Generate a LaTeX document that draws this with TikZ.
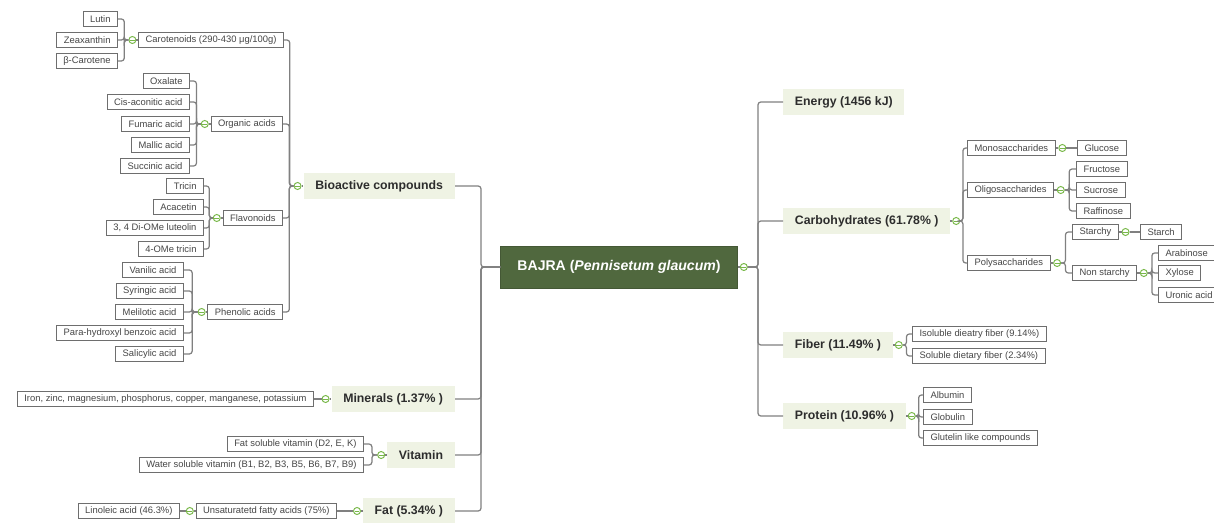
\documentclass[tikz,border=0pt]{standalone}
\usepackage{fontspec}
\setmainfont{Liberation Sans}
\usetikzlibrary{positioning,calc}
\definecolor{rootgreen}{RGB}{80,104,62}
\definecolor{topicfill}{RGB}{239,243,228}
\definecolor{topictext}{RGB}{45,45,45}
\definecolor{foldgreen}{RGB}{120,184,72}
\definecolor{linkgray}{RGB}{128,128,128}
\definecolor{leafgray}{RGB}{110,110,110}
\definecolor{leaftext}{RGB}{70,70,70}

\begin{document}
\begin{tikzpicture}[x=0.02cm, y=-0.02cm,
        leaf/.style={draw=leafgray, fill=white, text=leaftext, font=\fontsize{5.35}{6}\selectfont, inner xsep=4pt, inner ysep=0pt, minimum height=9pt, line width=0.55pt},
        topic/.style={fill=topicfill, text=topictext, font=\bfseries\fontsize{7}{8}\selectfont, inner xsep=6.6pt, minimum height=15.3pt},
        root/.style={fill=rootgreen, draw=rootgreen!85!black, text=white, font=\bfseries\fontsize{8}{9}\selectfont, inner xsep=9.6pt, minimum height=23.8pt},
        fold/.style={circle, draw=foldgreen, fill=white, line width=0.55pt, inner sep=0pt, minimum size=4pt, path picture={\draw[foldgreen, line width=0.55pt] ([xshift=0.6pt]path picture bounding box.west) -- ([xshift=-0.6pt]path picture bounding box.east);}},
        link/.style={draw=linkgray, line width=0.7pt, rounded corners=1.6pt}]
        \clip (0,0) rectangle (1214,523);

        \node[root] (bajra) at (619,267) {BAJRA (\textit{Pennisetum glaucum})};
        \node[fold, right=1.2pt of bajra] (bajraF) {};
        \coordinate (trunkL) at (481,267);
        \coordinate (trunkR) at (758,267);

        \node[topic, anchor=east] (bio) at (455,186) {Bioactive compounds};
        \node[topic, anchor=east] (mineral) at (455,399) {Minerals (1.37\% )};
        \node[topic, anchor=east] (vitamin) at (455,455) {Vitamin};
        \node[topic, anchor=east] (fat) at (455,511) {Fat (5.34\% )};
        \node[fold, left=1pt of bio] (bioF) {};
        \node[fold, left=1pt of mineral] (mineralF) {};
        \node[fold, left=1pt of vitamin] (vitaminF) {};
        \node[fold, left=1pt of fat] (fatF) {};

        \node[leaf, anchor=east] (carot) at (284,40) {Carotenoids (290-430 μg/100g)};
        \node[leaf, anchor=east] (organic) at (283,124) {Organic acids};
        \node[leaf, anchor=east] (flavo) at (283,218) {Flavonoids};
        \node[leaf, anchor=east] (phenol) at (283,312) {Phenolic acids};
        \node[fold, left=1pt of carot] (carotF) {};
        \node[fold, left=1pt of organic] (organicF) {};
        \node[fold, left=1pt of flavo] (flavoF) {};
        \node[fold, left=1pt of phenol] (phenolF) {};

        \node[leaf, anchor=east] (lutin) at (118,19) {Lutin};
        \node[leaf, anchor=east] (zea) at (118,40) {Zeaxanthin};
        \node[leaf, anchor=east] (betacar) at (118,61) {β-Carotene};

        \node[leaf, anchor=east] (oxal) at (190,81) {Oxalate};
        \node[leaf, anchor=east] (cisacon) at (190,102) {Cis-aconitic acid};
        \node[leaf, anchor=east] (fumar) at (190,124) {Fumaric acid};
        \node[leaf, anchor=east] (mallic) at (190,145) {Mallic acid};
        \node[leaf, anchor=east] (succin) at (190,166) {Succinic acid};

        \node[leaf, anchor=east] (tricin) at (204,186) {Tricin};
        \node[leaf, anchor=east] (acacet) at (204,207) {Acacetin};
        \node[leaf, anchor=east] (luteol) at (204,228) {3, 4 Di-OMe luteolin};
        \node[leaf, anchor=east] (metric) at (204,249) {4-OMe tricin};

        \node[leaf, anchor=east] (vanil) at (184,270) {Vanilic acid};
        \node[leaf, anchor=east] (syring) at (184,291) {Syringic acid};
        \node[leaf, anchor=east] (melil) at (184,312) {Melilotic acid};
        \node[leaf, anchor=east] (parahyd) at (184,333) {Para-hydroxyl benzoic acid};
        \node[leaf, anchor=east] (salic) at (184,354) {Salicylic acid};

        \node[leaf, anchor=east] (metals) at (314,399) {Iron, zinc, magnesium, phosphorus, copper, manganese, potassium};
        \node[leaf, anchor=east] (fatsol) at (364,444) {Fat soluble vitamin (D2, E, K)};
        \node[leaf, anchor=east] (watsol) at (364,465) {Water soluble vitamin (B1, B2, B3, B5, B6, B7, B9)};
        \node[leaf, anchor=east] (unsat) at (337,511) {Unsaturatetd fatty acids (75\%)};
        \node[fold, left=1pt of unsat] (unsatF) {};
        \node[leaf, anchor=east] (linol) at (180,511) {Linoleic acid (46.3\%)};

        \node[topic, anchor=west] (energy) at (783,102) {Energy (1456 kJ)};
        \node[topic, anchor=west] (carbo) at (783,221) {Carbohydrates (61.78\% )};
        \node[topic, anchor=west] (fiber) at (783,345) {Fiber (11.49\% )};
        \node[topic, anchor=west] (protein) at (783,416) {Protein (10.96\% )};
        \node[fold, right=1pt of carbo] (carboF) {};
        \node[fold, right=1pt of fiber] (fiberF) {};
        \node[fold, right=1pt of protein] (proteinF) {};

        \node[leaf, anchor=west] (mono) at (967,148) {Monosaccharides};
        \node[leaf, anchor=west] (oligo) at (967,190) {Oligosaccharides};
        \node[leaf, anchor=west] (poly) at (967,263) {Polysaccharides};
        \node[fold, right=1.5pt of mono] (monoF) {};
        \node[fold, right=1.5pt of oligo] (oligoF) {};
        \node[fold, right=1.5pt of poly] (polyF) {};
        \node[leaf, anchor=west] (gluc) at (1077,148) {Glucose};
        \node[leaf, anchor=west] (fruc) at (1076,169) {Fructose};
        \node[leaf, anchor=west] (sucr) at (1076,190) {Sucrose};
        \node[leaf, anchor=west] (raff) at (1076,211) {Raffinose};
        \node[leaf, anchor=west] (starchy) at (1072,232) {Starchy};
        \node[leaf, anchor=west] (nonstar) at (1072,273) {Non starchy};
        \node[fold, right=1.5pt of starchy] (starchyF) {};
        \node[fold, right=1.5pt of nonstar] (nonstarF) {};
        \node[leaf, anchor=west] (starch) at (1140,232) {Starch};
        \node[leaf, anchor=west] (arab) at (1158,253) {Arabinose};
        \node[leaf, anchor=west] (xyl) at (1158,273) {Xylose};
        \node[leaf, anchor=west] (uronic) at (1158,295) {Uronic acid};

        \node[leaf, anchor=west] (insol) at (912,334) {Isoluble dieatry fiber (9.14\%)};
        \node[leaf, anchor=west] (solub) at (912,356) {Soluble dietary fiber (2.34\%)};
        \node[leaf, anchor=west] (album) at (923,395) {Albumin};
        \node[leaf, anchor=west] (globul) at (923,417) {Globulin};
        \node[leaf, anchor=west] (glutel) at (923,438) {Glutelin like compounds};

        \foreach \t in {bio,mineral,vitamin,fat}
            \draw[link] (bajra.west) -- (trunkL) |- (\t.east);
        \draw[link] (bajra.east) -- (bajraF.west);
        \foreach \t in {energy,carbo,fiber,protein}
            \draw[link] (bajraF.east) -- (trunkR) |- (\t.west);

        \foreach \p in {bio,mineral,vitamin,fat,carot,organic,flavo,phenol,unsat}
            \draw[link] (\p F.east) -- (\p.west);
        \foreach \p in {carbo,fiber,protein,mono,oligo,poly,starchy,nonstar}
            \draw[link] (\p.east) -- (\p F.west);

        \foreach \c in {carot,organic,flavo,phenol}
            \draw[link] (bioF.west) -- ($(bioF.west)!0.4!(bioF.west -| \c.east)$) |- (\c.east);
        \foreach \c in {lutin,zea,betacar}
            \draw[link] (carotF.west) -- ($(carotF.west)!0.4!(carotF.west -| \c.east)$) |- (\c.east);
        \foreach \c in {oxal,cisacon,fumar,mallic,succin}
            \draw[link] (organicF.west) -- ($(organicF.west)!0.4!(organicF.west -| \c.east)$) |- (\c.east);
        \foreach \c in {tricin,acacet,luteol,metric}
            \draw[link] (flavoF.west) -- ($(flavoF.west)!0.4!(flavoF.west -| \c.east)$) |- (\c.east);
        \foreach \c in {vanil,syring,melil,parahyd,salic}
            \draw[link] (phenolF.west) -- ($(phenolF.west)!0.4!(phenolF.west -| \c.east)$) |- (\c.east);
        \draw[link] (mineralF.west) -- (metals.east);
        \foreach \c in {fatsol,watsol}
            \draw[link] (vitaminF.west) -- ($(vitaminF.west)!0.4!(vitaminF.west -| \c.east)$) |- (\c.east);
        \draw[link] (fatF.west) -- (unsat.east);
        \draw[link] (unsatF.west) -- (linol.east);

        \foreach \c in {mono,oligo,poly}
            \draw[link] (carboF.east) -- ($(carboF.east)!0.4!(carboF.east -| \c.west)$) |- (\c.west);
        \draw[link] (monoF.east) -- (gluc.west);
        \foreach \c in {fruc,sucr,raff}
            \draw[link] (oligoF.east) -- ($(oligoF.east)!0.4!(oligoF.east -| \c.west)$) |- (\c.west);
        \foreach \c in {starchy,nonstar}
            \draw[link] (polyF.east) -- ($(polyF.east)!0.4!(polyF.east -| \c.west)$) |- (\c.west);
        \draw[link] (starchyF.east) -- (starch.west);
        \foreach \c in {arab,xyl,uronic}
            \draw[link] (nonstarF.east) -- ($(nonstarF.east)!0.4!(nonstarF.east -| \c.west)$) |- (\c.west);
        \foreach \c in {insol,solub}
            \draw[link] (fiberF.east) -- ($(fiberF.east)!0.4!(fiberF.east -| \c.west)$) |- (\c.west);
        \foreach \c in {album,globul,glutel}
            \draw[link] (proteinF.east) -- ($(proteinF.east)!0.4!(proteinF.east -| \c.west)$) |- (\c.west);
\end{tikzpicture}
\end{document}
